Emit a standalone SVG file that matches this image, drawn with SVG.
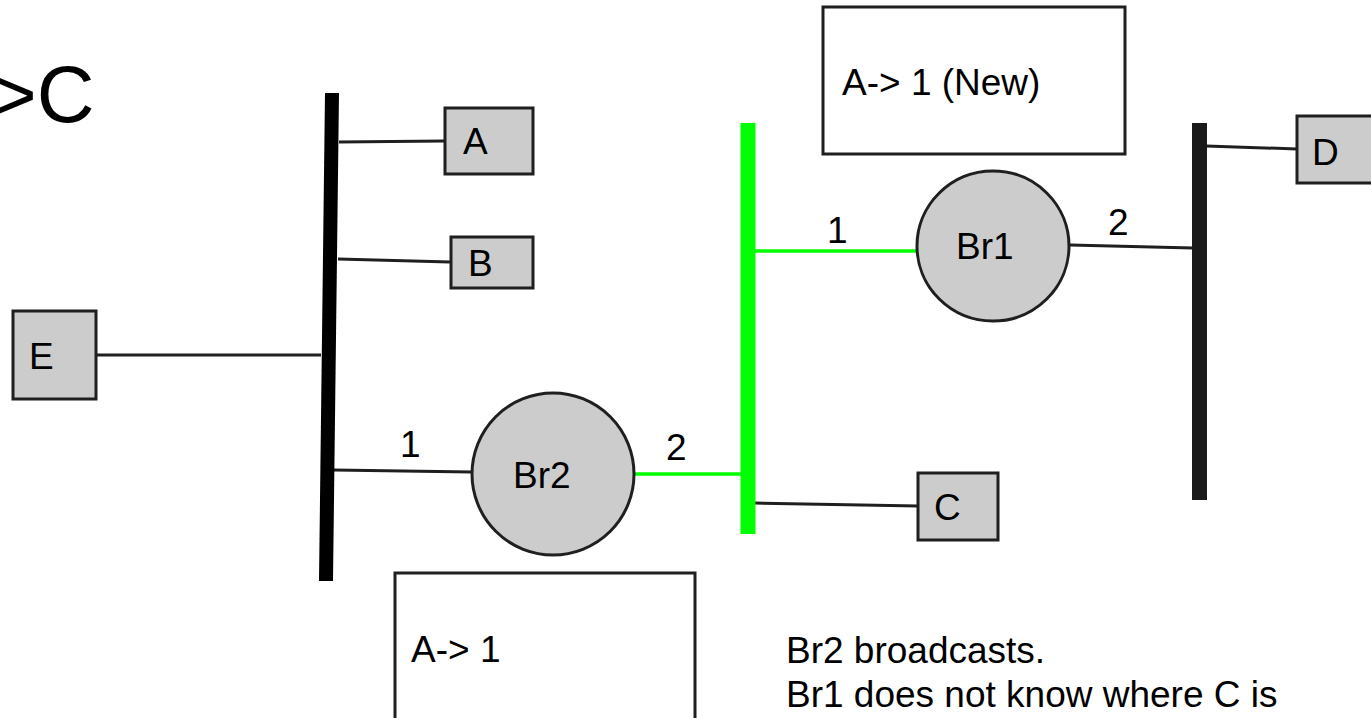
<svg xmlns="http://www.w3.org/2000/svg" width="1371" height="718" viewBox="0 0 1371 718">
<style>
  text { font-family: "Liberation Sans", Arial, sans-serif; fill: #000; }
  .lbl { font-size: 37px; }
  .box { fill: #cccccc; stroke: #1f1f1f; stroke-width: 3; }
  .tbl { fill: #ffffff; stroke: #1f1f1f; stroke-width: 3; }
  .br { fill: #cccccc; stroke: #1f1f1f; stroke-width: 3; }
  .wire { stroke: #1f1f1f; stroke-width: 3; fill: none; }
  .gwire { stroke: #00ff00; stroke-width: 3.5; fill: none; }
</style>
<rect width="1371" height="718" fill="#ffffff"/>
<text x="-10" y="122" style="font-size:80px">&gt;C</text>

<g id="connectors">
  <line class="wire" x1="339" y1="142" x2="444" y2="141"/>
  <line class="wire" x1="338" y1="259" x2="450" y2="262"/>
  <line class="wire" x1="97" y1="355" x2="321" y2="355"/>
  <line class="wire" x1="334" y1="470" x2="472" y2="472"/>
  <line class="gwire" x1="635" y1="474" x2="742" y2="474"/>
  <line class="wire" x1="755" y1="503" x2="918" y2="506"/>
  <line class="gwire" x1="755" y1="251" x2="917" y2="251"/>
  <line class="wire" x1="1070" y1="245" x2="1193" y2="248"/>
  <line class="wire" x1="1206" y1="146" x2="1297" y2="149"/>
  <text class="lbl" x="400" y="457">1</text>
  <text class="lbl" x="666" y="460">2</text>
  <text class="lbl" x="827" y="243">1</text>
  <text class="lbl" x="1108" y="235">2</text>
</g>

<g id="lan-left"><line x1="332" y1="93" x2="326" y2="581" stroke="#000" stroke-width="14"/></g>
<g id="lan-green"><line x1="748" y1="123" x2="748" y2="534" stroke="#00ff00" stroke-width="15"/></g>
<g id="lan-right"><line x1="1199.5" y1="123" x2="1199.5" y2="500" stroke="#1a1a1a" stroke-width="15"/></g>

<g id="A"><rect class="box" x="445" y="108" width="88" height="66"/><text class="lbl" x="463" y="154">A</text></g>
<g id="B"><rect class="box" x="451" y="237" width="82" height="51"/><text class="lbl" x="468" y="276">B</text></g>
<g id="E"><rect class="box" x="13" y="311" width="83" height="88"/><text class="lbl" x="29" y="369">E</text></g>
<g id="C"><rect class="box" x="918" y="473" width="80" height="67"/><text class="lbl" x="934" y="520">C</text></g>
<g id="D"><rect class="box" x="1297" y="116" width="80" height="67"/><text class="lbl" x="1312" y="165">D</text></g>

<g id="Br2"><circle class="br" cx="553" cy="474" r="81"/><text class="lbl" x="513" y="488">Br2</text></g>
<g id="Br1"><ellipse class="br" cx="993" cy="246" rx="76" ry="75"/><text class="lbl" x="956" y="259">Br1</text></g>

<g id="table-br1"><rect class="tbl" x="823" y="7" width="302" height="147"/><text class="lbl" x="842" y="95">A-&gt; 1 (New)</text></g>
<g id="table-br2"><rect class="tbl" x="395" y="573" width="300" height="160"/><text class="lbl" x="411" y="662">A-&gt; 1</text></g>

<g id="note">
  <text class="lbl" x="786" y="663">Br2 broadcasts.</text>
  <text class="lbl" x="786" y="707">Br1 does not know where C is</text>
</g>
</svg>
